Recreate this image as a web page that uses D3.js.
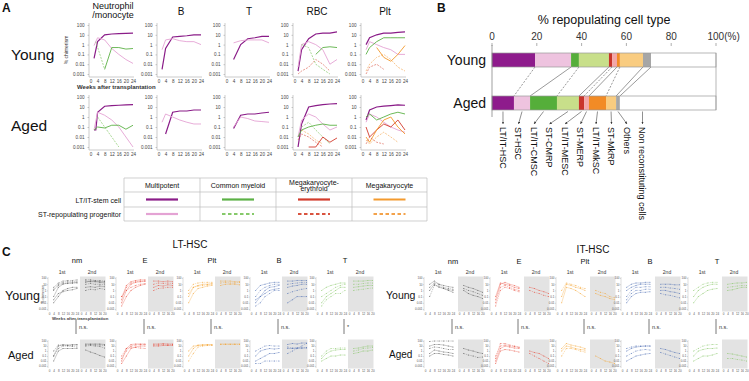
<!DOCTYPE html>
<html><head><meta charset="utf-8">
<script src="https://cdn.jsdelivr.net/npm/d3@7"></script>
<style>body{margin:0;background:#fff}svg{display:block}</style>
</head><body><svg id="c" width="749" height="381"></svg>
<script>
// ================= DATA =================
// ---- Panel A: % chimerism over weeks, per lineage class ----
const aColumns = ["Neutrophil|/monocyte", "B", "T", "RBC", "Plt"];
const aRows = ["Young", "Aged"];
const aYTicks = [100, 10, 1, 0.1, 0.01, 0.001];
const aXTicks = [0, 4, 8, 12, 16, 20, 24];

const aYoungNM = [
  ["LT-MP", [[2,0.04],[4,2],[8,10],[12,12],[16,13],[20,14],[24,15]]],
  ["ST-MP", [[2,0.8],[4,5],[8,3],[12,0.4],[16,0.1],[20,0.03],[24,0.012]]],
  ["ST-CM", [[3,2],[8,0.003]]],
  ["LT-CM", [[8,0.003],[12,0.5],[16,0.5],[20,0.35],[24,0.4]]]
];
const aYoungB = [
  ["LT-MP", [[2,0.003],[4,0.4],[8,6],[12,7],[16,8],[20,10],[24,10]]],
  ["ST-MP", [[2,0.3],[4,3],[8,4],[12,2.5],[16,2],[20,2],[24,1]]]
];
const aYoungT = [
  ["LT-MP", [[4,0.03],[8,1],[12,4],[16,5],[20,7],[24,7]]],
  ["ST-MP", [[4,1.5],[8,2.5],[12,3],[16,3],[20,3],[24,1.5]]]
];
const aYoungRBC = [
  ["LT-MP", [[2,0.002],[4,0.3],[8,4],[12,12],[16,15],[20,15],[24,20]]],
  ["ST-MP", [[2,0.005],[4,1],[8,2],[12,1],[16,0.3],[20,0.01],[24,0.03]]],
  ["LT-CM", [[12,0.1],[16,0.5],[20,0.6],[24,0.5]]],
  ["ST-CM", [[4,1],[8,0.5],[12,0.01],[16,0.003],[20,0.001]]],
  ["ST-ME", [[2,0.001],[4,0.002],[8,0.005],[12,0.03],[16,0.01],[20,0.002]]]
];
const aYoungPlt = [
  ["LT-MP", [[2,1],[4,5],[8,10],[12,15],[16,15],[20,18],[24,20]]],
  ["ST-MP", [[2,0.3],[4,2],[8,1],[12,0.5],[16,0.3],[20,0.1],[24,0.1]]],
  ["LT-CM", [[2,0.1],[4,0.5],[8,2],[12,5],[16,5],[20,5],[24,5]]],
  ["LT-Mk", [[8,0.5],[12,0.05],[16,0.02],[20,0.1],[24,0.8]]],
  ["ST-Mk", [[2,0.002],[4,0.01],[8,0.05],[12,0.1],[16,0.03],[20,0.005],[24,0.002]]],
  ["ST-ME", [[2,0.001],[4,0.005],[8,0.01],[12,0.003]]]
];
const aAgedNM = [
  ["LT-MP", [[2,0.05],[3,0.05],[4,3],[8,12],[12,14],[16,15],[20,16],[24,17]]],
  ["ST-MP", [[2,0.05],[4,3],[8,1.5],[12,0.5],[16,0.1],[20,0.01],[24,0.001]]],
  ["LT-CM", [[2,0.05],[4,0.1],[8,0.08],[12,0.15],[16,0.15],[20,0.06],[24,0.15]]],
  ["ST-CM", [[4,1],[8,0.1],[12,0.01],[16,0.001]]]
];
const aAgedB = [
  ["LT-MP", [[4,0.02],[8,3],[12,4],[16,4],[20,5],[24,5]]],
  ["ST-MP", [[2,0.3],[4,2],[8,1],[12,0.5],[16,0.3],[20,0.2],[24,0.2]]]
];
const aAgedT = [
  ["LT-MP", [[4,0.07],[8,1.5],[12,2],[16,2],[20,2.5],[24,3]]],
  ["ST-MP", [[4,0.1],[8,1],[12,0.7],[16,0.4],[20,0.35],[24,0.3]]]
];
const aAgedRBC = [
  ["LT-MP", [[2,0.001],[4,0.2],[8,10],[12,14],[16,17],[20,20],[24,22]]],
  ["ST-MP", [[2,0.01],[4,0.5],[8,2],[12,1],[16,0.2],[20,0.05],[24,0.1]]],
  ["LT-CM", [[2,0.01],[4,0.05],[8,0.1],[12,0.15],[16,0.2],[20,0.15],[24,0.15]]],
  ["ST-CM", [[4,0.1],[8,0.3],[12,0.05],[16,0.01],[20,0.002]]],
  ["LT-ME", [[8,0.0007],[12,0.001],[16,0.01],[20,0.003],[24,0.008]]],
  ["ST-ME", [[2,0.005],[4,0.02],[8,0.01],[12,0.003],[16,0.001]]],
  ["ST-Mk", [[4,0.05],[8,0.02],[12,0.005],[16,0.002]]]
];
const aAgedPlt = [
  ["LT-MP", [[2,0.5],[4,5],[8,10],[12,12],[16,14],[20,16],[24,15]]],
  ["ST-MP", [[2,0.3],[4,2],[8,1],[12,0.3],[16,0.1],[20,0.05],[24,0.03]]],
  ["LT-CM", [[2,1],[4,2],[8,0.5],[12,1],[16,2],[20,3],[24,2]]],
  ["LT-ME", [[2,0.1],[4,0.01],[8,0.05],[12,0.2],[16,0.1],[20,0.5],[24,0.05]]],
  ["LT-Mk", [[2,0.01],[4,0.003],[8,0.05],[12,0.5],[16,1],[20,0.1],[24,0.02]]],
  ["ST-Mk", [[2,0.005],[4,0.002],[8,0.01],[12,0.03],[16,0.01],[20,0.003]]],
  ["ST-ME", [[2,0.002],[4,0.01],[8,0.003],[12,0.002]]]
];

// ---- Legend table ----
const legendCols = ["Multipotent", "Common myeloid", "Megakaryocyte-|erythroid", "Megakaryocyte"];
const legendRows = ["LT/IT-stem cell", "ST-repopulating progenitor"];
const legendKeys = [["LT-MP","LT-CM","LT-ME","LT-Mk"],["ST-MP","ST-CM","ST-ME","ST-Mk"]];

// ---- Panel B: % repopulating cell type ----
const bCategories = ["LT/IT-HSC","ST-HSC","LT/IT-CMSC","ST-CMRP","LT/IT-MESC","ST-MERP","LT/IT-MkSC","ST-MkRP","Others","Non reconstituting cells"];
const bGroups = ["Young", "Aged"];
const bYoung = [19.2, 16.1, 3.5, 13.4, 1.4, 2.2, 1.3, 10.3, 3.6, 29.0];
const bAged  = [9.8, 7.2, 12.0, 9.8, 2.3, 2.2, 7.6, 4.5, 1.7, 42.9];
const bTicks = [0, 20, 40, 60, 80, 100];

// ---- Panel C: individual clones, log10(% chimerism) ----
const cGroups = ["LT-HSC", "IT-HSC"];
const cTypes = ["nm", "E", "Plt", "B", "T"];
const cWeeks1st = [4, 8, 12, 16, 20, 24];
const cWeeks2nd = [4, 8, 12, 16, 20];
const cXTicks1st = [0, 4, 8, 12, 16, 20, 24];
const cXTicks2nd = [0, 4, 8, 12, 16, 20];
const cSignif = [["n.s.","n.s.","n.s.","n.s.","*"], ["n.s.","n.s.","n.s.","n.s.","n.s."]];

const ltYoung1st = [
  [[-1,0.5,1,1.2,1.2,1.3],[0.2,1,1.3,1.4,1.4,1.5],[-2,-1,0,0.3,0.5,0.5],[0,0.8,1.1,1.1,1.2,1.2],[-1.5,-0.5,-0.2,0,0.1,0.3],[0.5,1.2,1.5,1.6,1.6,1.7]],
  [[-2,0,1,1.3,1.4,1.5],[-1,0.5,1.2,1.4,1.5,1.5],[-2.5,-1,0,0.5,0.8,1],[-1,0,0.5,0.8,1,1.1],[-1.5,0.8,1.4,1.6,1.7,1.7]],
  [[-1,0.5,0.8,1,1,1.1],[0,1,1.2,1.3,1.3,1.3],[-2,-0.5,0.3,0.5,0.7,0.8],[-0.5,0.5,0.7,0.8,0.9,1]],
  [[-2,-1,0,0.5,0.6,0.8],[-1,0,0.5,0.8,1,1],[0,0.8,1,1.2,1.3,1.3],[-2.5,-2,-1,-0.5,0,0],[-1.5,-1,-0.5,0,0.2,0.3]],
  [[-2,-1,-0.5,0,0.5,0.5],[-1,-0.5,0,0.5,0.8,1],[0,0.5,0.8,1,1.2,1.2],[-2.5,-1.5,-1,-0.5,-0.5,0]]
];
const ltYoung2nd = [
  [[1.5,1.4,1.4,1.3,1.2],[1,1.1,1,1,0.9],[0.5,0.6,0.5,0.7,0.6],[0,0.2,0.1,0.3,0.2],[1.3,1.5,1.5,1.4,1.4],[1.7,1.7,1.6,1.6,1.5]],
  [[1.5,1.5,1.4,1.5,1.4],[1,1.2,1.1,1.2,1.1],[0.5,0.8,0.7,0.9,0.8],[0,0.3,0.4,0.5,0.5]],
  [[1.5,1.5,1.5,1.4,1.4],[1.2,1.3,1.2,1.2,1.3],[0.8,1,1,1,0.9]],
  [[1.5,1.5,1.6,1.6,1.6],[1,1.1,1.2,1.3,1.3],[0.5,0.7,0.8,1,1],[-0.5,-0.2,0,0.2,0.3],[-2,-1.5,-1,-1,-1]],
  [[1.5,1.5,1.5,1.6,1.6],[1,1,1.1,1.2,1.2],[0.5,0.6,0.7,0.8,0.8],[0,0.1,0.2,0.3,0.4]]
];
const ltAged1st = [
  [[-1,1,1.3,1.2,1.3,1.3],[0,1.2,1.1,1,0.9,0.8],[-2,0,0.5,0.5,0.5,0.5],[-1,0.5,1,1.1,1.1,1.2]],
  [[-2,0.5,1.3,1.4,1.4,1.4],[-1.5,0,1,1.2,1.3,1.3],[-2.5,-1,0.5,0.8,1,1],[-1,0.5,0.8,0.7,0.6,0.5]],
  [[-1,0.5,1.2,1.3,1.3,1.3],[-2,-0.5,0.8,1,1.1,1.1],[0,1,1.1,1.1,1.2,1.2]],
  [[-1,0,0.3,0.5,0.4,0.5],[0,0.5,1,1.1,1,1],[-2,-1.5,-1,-0.5,-0.5,-0.3],[-2.5,-2.5,-2,-2,-2,-2]],
  [[-1.5,-0.5,0,0.2,0.3,0.3],[-1,0,0.5,0.5,0.6,0.6],[-2,-1.5,-1,-1,-0.8,-0.8]]
];
const ltAged2nd = [
  [[1.4,1.4,1.4,1.4,1.3],[1.2,1.3,1.2,1.2,1.1],[0.2,-0.2,-0.5,-0.9,-1.2],[1,1.1,1,0.9,0.6]],
  [[1.4,1.4,1.5,1.4,1.4],[1.2,1.2,1.3,1.2,1.3],[1,1,1.1,1.1,1.1]],
  [[1.4,1.4,1.4,1.4,1.4],[1.3,1.3,1.3,1.3,1.3]],
  [[1.3,1.5,1.4,1.6,1.6],[0.8,0.6,0.7,0.6,0.7],[0.5,0.5,0.5,0.6,0.6],[-0.5,0,0.5,1,1.5]],
  [[0.5,0.6,0.8,1,1],[0,0.2,0.5,0.6,0.7],[-0.5,-0.3,0,0,0.2]]
];
const itYoung1st = [
  [[1,1.5,1,0.8,0.6,0.5],[0.5,1.2,1,0.5,0.3,0.2],[0,1,0.5,0.3,0,-0.3],[-1,0.8,0.7,0.3,0.1,0]],
  [[-1,1.2,1,0.8,0.5,0.3],[-2,0.5,0.8,0.5,0.2,0],[-1.5,1,1.3,1,0.8,0.5],[-2.5,0,0.5,0.3,0,-0.2]],
  [[-1,1,0.8,0.5,0.3,0],[0,1.2,1,0.8,0.5,0.3],[-2,0.5,0.3,0,-0.5,-1]],
  [[0,0.5,0.8,1,1,1],[-1,0,0.5,0.5,0.6,0.6],[0.5,1,1.2,1.2,1.3,1.3],[-1.5,-0.5,0,0,0.2,0.2],[-2,-1,-0.5,-0.3,-0.3,-0.2]],
  [[-1,0,0.5,0.8,1,1],[0,0.5,1,1.2,1.3,1.3],[-2,-1,-0.5,0,0.2,0.3]]
];
const itYoung2nd = [
  [[0.8,0.5,0.3,0,-0.3],[0.3,0,-0.2,-0.5,-0.8],[0,-0.5,-0.8,-1,-1.3]],
  [[0.5,0.3,0,-0.2,-0.5],[0,-0.3,-0.5,-0.8,-1]],
  [[-0.5,-0.8,-1,-1.3,-1.5],[0,-0.3,-0.5,-1,-1.2]],
  [[1,1,1,0.9,0.9],[0.5,0.5,0.4,0.3,0.2],[0,0,-0.2,-0.3,-0.5],[-0.5,-0.7,-0.8,-1,-1.2]],
  [[1,1.1,1.2,1.2,1.3],[0.5,0.6,0.7,0.8,0.8],[0,0.1,0.3,0.5,0.5]]
];
const itAged1st = [
  [[1,1.3,1.3,1.2,1,0.8],[0.5,0.8,0.7,0.5,0.3,0.3],[-0.5,0.2,0,-0.2,-0.3,-0.5],[1.9,2,2,2,2,2],[-1,-0.5,-0.5,-0.7,-0.8,-1]],
  [[-2,0.5,1,0.8,0.6,0.5],[-1,1,1.2,1,0.9,0.7],[-2.5,0,0.3,0.2,0,-0.2],[-1.5,1.5,1.5,1.2,1,0.8]],
  [[0,1,0.8,0.5,0.3,0.2],[-1,0.5,0.5,0.3,0,-0.2],[0.5,1.5,1.2,1,0.8,0.5]],
  [[0,0.5,0.8,0.9,1,1],[-1,-0.5,0,0.2,0.3,0.2],[-2,-1.5,-1,-0.8,-0.6,-0.5],[0.5,0.8,1,1,1,1]],
  [[-1,0,0.3,0.5,0.5,0.6],[0,0.5,1,1.2,1.3,1.3],[-2,-1.5,-1,-1,-0.8,-0.5]]
];
const itAged2nd = [
  [[0.5,0.2,0,-0.3,-0.5],[-0.5,-0.8,-1,-1.3,-1.2]],
  [[0,-0.3,-0.5,-1,-1.5],[-0.5,-1,-1.5,-2,-2.5]],
  [[-1,-1.5,-2,-2.2,-2.5]],
  [[0.5,0.3,0,-0.3,-0.5],[-0.3,-0.6,-0.9,-1.2,-1.5]],
  [[-0.5,-0.6,-0.8,-1,-1.2],[-1.5,-1.5,-1.7,-1.8,-2]]
];

// ================= DRAWING =================
const F = "Arial, 'Liberation Sans', Helvetica, sans-serif";
const svg = d3.select("#c");
function T(x, y, s, size, anchor, attrs) {
  const t = svg.append("text").attr("x", x).attr("y", y).attr("font-size", size)
    .attr("font-family", F).attr("text-anchor", anchor || "start").attr("fill", "#111").text(s);
  if (attrs) for (const k in attrs) t.attr(k, attrs[k]);
  return t;
}
const fmtTick = d => d >= 1 ? String(d) : String(+d.toPrecision(1));

const lineStyle = {
  "LT-MP": {c: "#8a1c88", w: 1.2, d: null},
  "ST-MP": {c: "#e4a3d4", w: 0.9, d: null},
  "LT-CM": {c: "#5cb146", w: 0.9, d: null},
  "ST-CM": {c: "#86c96a", w: 0.7, d: "2,1.2"},
  "LT-ME": {c: "#d23b2c", w: 0.9, d: null},
  "ST-ME": {c: "#d9533f", w: 0.6, d: "2,1.2"},
  "LT-Mk": {c: "#f39a2e", w: 0.9, d: null},
  "ST-Mk": {c: "#f3a24a", w: 0.6, d: "2,1.2"}
};

// ---------- Panel A ----------
T(2, 12, "A", 12, "start", {"font-weight": "bold"});
const aX0 = [89, 157, 225, 293, 361];
const aYR = [[25, 74], [97, 147]];
const aData = [[aYoungNM, aYoungB, aYoungT, aYoungRBC, aYoungPlt], [aAgedNM, aAgedB, aAgedT, aAgedRBC, aAgedPlt]];
aColumns.forEach((c, i) => {
  const parts = c.split("|");
  const cx = aX0[i] + 24;
  if (parts.length === 2) { T(cx, 8.5, parts[0], 9, "middle"); T(cx, 17.5, parts[1], 9, "middle"); }
  else T(cx, 15, parts[0], 10, "middle");
});
aRows.forEach((r, i) => T(11, i === 0 ? 60 : 131, r, 15.5, "start"));
aData.forEach((row, r) => row.forEach((series, c) => {
  const x0 = aX0[c], [yt, yb] = aYR[r];
  const x = d3.scaleLinear().domain([0, 24]).range([x0 + 1.5, x0 + 44]);
  const y = d3.scaleLog().domain([0.001, 100]).range([yb, yt]).clamp(true);
  const g = svg.append("g");
  const ya = g.append("g").attr("transform", `translate(${x0},0)`)
    .call(d3.axisLeft(y).tickValues(aYTicks).tickFormat(fmtTick).tickSize(1.5).tickSizeOuter(0));
  const xa = g.append("g").attr("transform", `translate(0,${yb + 3})`)
    .call(d3.axisBottom(x).tickValues(aXTicks).tickSize(0).tickPadding(2.5));
  [ya, xa].forEach(a => {
    a.selectAll("text").attr("font-size", 4.6).attr("font-family", F).attr("fill", "#444");
    a.selectAll("line").attr("stroke", "#999").attr("stroke-width", 0.5);
    a.select(".domain").attr("stroke", "#aaa").attr("stroke-width", 0.6);
  });
  ya.select(".domain").attr("d", `M0,${yt - 2}V${yb + 3}`);
  xa.select(".domain").attr("d", `M${x0},0H${x0 + 45}`);
  const line = d3.line().x(d => x(d[0])).y(d => y(d[1]));
  series.forEach(([key, pts]) => {
    const s = lineStyle[key];
    g.append("path").attr("d", line(pts)).attr("fill", "none").attr("stroke", s.c)
      .attr("stroke-width", s.w).attr("stroke-dasharray", s.d);
  });
}));
T(68, 50, "% chimerism", 5, "middle", {transform: "rotate(-90,68,50)", fill: "#333"});
T(77, 89, "Weeks after transplantation", 6, "start", {"font-weight": "bold", fill: "#333"});

// ---------- Legend table ----------
const tb = {x0: 124, x1: 427, cols: [124, 200, 276, 352, 427], rows: [178, 192, 207, 221]};
tb.rows.forEach(yv => svg.append("line").attr("x1", tb.x0).attr("x2", tb.x1).attr("y1", yv).attr("y2", yv).attr("stroke", "#bbb").attr("stroke-width", 0.7));
tb.cols.forEach(xv => svg.append("line").attr("x1", xv).attr("x2", xv).attr("y1", tb.rows[0]).attr("y2", tb.rows[3]).attr("stroke", "#bbb").attr("stroke-width", 0.7));
legendCols.forEach((c, i) => {
  const cx = (tb.cols[i] + tb.cols[i + 1]) / 2;
  const p = c.split("|");
  if (p.length === 2) { T(cx, 184.5, p[0], 7, "middle"); T(cx, 191, p[1], 7, "middle"); }
  else T(cx, 188, p[0], 7, "middle");
  legendKeys.forEach((rowKeys, r) => {
    const s = lineStyle[rowKeys[i]];
    const yv = r === 0 ? 199.5 : 214;
    svg.append("line").attr("x1", cx - 16).attr("x2", cx + 16).attr("y1", yv).attr("y2", yv)
      .attr("stroke", r === 0 ? s.c : (i === 0 ? "#e4a3d4" : s.c)).attr("stroke-width", 2.2)
      .attr("stroke-dasharray", r === 0 || i === 0 ? null : "3.5,2.5");
  });
});
legendRows.forEach((r, i) => T(121, i === 0 ? 202.5 : 217, r, 7, "end"));

// ---------- Panel B ----------
T(437, 12, "B", 12, "start", {"font-weight": "bold"});
T(604, 24, "% repopulating cell type", 12.5, "middle");
const bColors = ["#8e1b8c","#eec3df","#55ae3a","#c8df8a","#c9342a","#f3a7a8","#f28b25","#f9cc80","#a6a6a6","#ffffff"];
const xb = d3.scaleLinear().domain([0, 100]).range([492, 716]);
bTicks.forEach(t => {
  if (t === 100) T(xb(t) - 8.5, 40, "100(%)", 10, "start", {fill: "#333"});
  else T(xb(t), 40, String(t), 10, "middle", {fill: "#333"});
  svg.append("line").attr("x1", xb(t)).attr("x2", xb(t)).attr("y1", 43).attr("y2", 46).attr("stroke", "#777").attr("stroke-width", 0.6);
});
const bBarY = [[53, 67], [96, 110]];
const bStacks = [bYoung, bAged].map(v => { let s = 0; return v.map(d => { const a = s; s += d; return [a, s]; }); });
for (let i = 1; i < bCategories.length; i++) {
  const xy = xb(bStacks[0][i][0]), xa = xb(bStacks[1][i][0]);
  svg.append("line").attr("x1", xy).attr("y1", 67).attr("x2", xa).attr("y2", 96)
    .attr("stroke", "#555").attr("stroke-width", 0.6)
    .attr("stroke-dasharray", (i % 2 === 1 && i < 8) ? "2,1.5" : null);
}
bStacks.forEach((st, g) => {
  st.forEach((d, i) => {
    svg.append("rect").attr("x", xb(d[0])).attr("y", bBarY[g][0]).attr("width", xb(d[1]) - xb(d[0]))
      .attr("height", bBarY[g][1] - bBarY[g][0]).attr("fill", bColors[i]);
  });
  svg.append("rect").attr("x", xb(0)).attr("y", bBarY[g][0]).attr("width", xb(100) - xb(0))
    .attr("height", bBarY[g][1] - bBarY[g][0]).attr("fill", "none").attr("stroke", "#999").attr("stroke-width", 0.7);
  T(486, bBarY[g][1] - 2, bGroups[g], 14, "end");
});
svg.append("line").attr("x1", xb(0)).attr("x2", xb(0)).attr("y1", 45).attr("y2", 117).attr("stroke", "#777").attr("stroke-width", 0.7);
svg.append("line").attr("x1", xb(100)).attr("x2", xb(100)).attr("y1", 53).attr("y2", 110).attr("stroke", "#999").attr("stroke-width", 0.7);
svg.append("defs").append("marker").attr("id", "arr").attr("viewBox", "0 0 6 6").attr("refX", 6).attr("refY", 3)
  .attr("markerWidth", 4).attr("markerHeight", 4).attr("orient", "auto")
  .append("path").attr("d", "M0,0L6,3L0,6Z").attr("fill", "#333");
bCategories.forEach((c, i) => {
  const lx = 503 + i * 15.5;
  const mid = i === bCategories.length - 1 ? lx : xb((bStacks[1][i][0] + bStacks[1][i][1]) / 2);
  svg.append("line").attr("x1", mid).attr("y1", 111.5).attr("x2", lx).attr("y2", 124)
    .attr("stroke", "#444").attr("stroke-width", 0.6).attr("marker-end", "url(#arr)");
  T(lx, 127, c, 9, "start", {transform: `rotate(90,${lx},127)`, dy: "0.35em"});
});

// ---------- Panel C ----------
T(2, 256, "C", 12, "start", {"font-weight": "bold"});
const cColors = ["#555555", "#e84a3a", "#f4a12c", "#4b6db3", "#86c765"];
const cX0 = [[48, 116, 183, 250, 316], [424, 490, 556, 621, 688]];
const c2Off = [32, 34];
const cRowY = [[278, 309], [341, 366]];
const cData = [[[ltYoung1st, ltYoung2nd], [ltAged1st, ltAged2nd]], [[itYoung1st, itYoung2nd], [itAged1st, itAged2nd]]];
const cTitleX = [190, 593], cTitleY = [248, 253];
const cRowLab = [[[5, 300, 12.5], [8, 359, 11]], [[386, 299, 10.5], [389, 358, 10]]];
cGroups.forEach((gname, gi) => {
  T(cTitleX[gi], cTitleY[gi], gname, 10, "middle");
  T(cRowLab[gi][0][0], cRowLab[gi][0][1], "Young", cRowLab[gi][0][2], "start");
  T(cRowLab[gi][1][0], cRowLab[gi][1][1], "Aged", cRowLab[gi][1][2], "start");
  cTypes.forEach((tn, ti) => {
    const x0 = cX0[gi][ti];
    T(x0 + 29, 264 - (gi === 0 ? 1 : 0), tn, 7.5, "middle");
    T(x0 + 14, 274, "1st", 5, "middle", {fill: "#333"});
    T(x0 + c2Off[gi] + 12, 274, "2nd", 5, "middle", {fill: "#333"});
    svg.append("line").attr("x1", x0 + 28).attr("x2", x0 + 28).attr("y1", 319).attr("y2", 334).attr("stroke", "#555").attr("stroke-width", 0.8);
    T(x0 + 31, 329, cSignif[gi][ti], 5.5, "start", {fill: "#333"});
    [0, 1].forEach(ri => {
      const [yt, yb] = cRowY[ri];
      const y = d3.scaleLog().domain([0.001, 100]).range([yb, yt]).clamp(true);
      const x1 = d3.scaleLinear().domain([0, 24]).range([x0 + 1, x0 + 29]);
      const g = svg.append("g");
      const ya = g.append("g").attr("transform", `translate(${x0},0)`)
        .call(d3.axisLeft(y).tickValues(aYTicks).tickFormat(fmtTick).tickSize(1).tickSizeOuter(0));
      ya.select(".domain").attr("d", `M0,${yt - 1}V${yb + 2}`).attr("stroke", "#aaa").attr("stroke-width", 0.4);
      ya.selectAll("line").attr("stroke", "#aaa").attr("stroke-width", 0.4);
      ya.selectAll("text").attr("font-size", 3).attr("font-family", F).attr("fill", "#555").attr("x", -1.5);
      const gx0 = x0 + c2Off[gi];
      g.append("rect").attr("x", gx0).attr("y", yt - 1.5).attr("width", 25.5).attr("height", yb - yt + 4).attr("fill", "#e3e3e3");
      const x2 = d3.scaleLinear().domain([0, 20]).range([gx0 + 1, gx0 + 24.5]);
      [[x1, cXTicks1st], [x2, cXTicks2nd]].forEach(([xs, ticks]) => {
        const xa = g.append("g").attr("transform", `translate(0,${yb + 2.5})`)
          .call(d3.axisBottom(xs).tickValues(ticks).tickSize(0).tickPadding(1.5));
        xa.select(".domain").remove();
        xa.selectAll("text").attr("font-size", 3).attr("font-family", F).attr("fill", "#555");
      });
      const [d1, d2] = cData[gi][ri];
      [[d1[ti], cWeeks1st, x1], [d2[ti], cWeeks2nd, x2]].forEach(([lines, wk, xs]) => {
        lines.forEach((vals, li) => {
          const pts = vals.map((v, k) => [wk[k], Math.pow(10, v)]);
          const ln = d3.line().x(d => xs(d[0])).y(d => y(d[1]));
          g.append("path").attr("d", ln(pts)).attr("fill", "none").attr("stroke", cColors[ti])
            .attr("stroke-width", 0.45).attr("stroke-dasharray", li % 2 ? "1.5,0.8" : null).attr("opacity", 0.7);
          g.selectAll(null).data(pts).enter().append("circle").attr("cx", d => xs(d[0])).attr("cy", d => y(d[1]))
            .attr("r", 0.5).attr("fill", cColors[ti]).attr("opacity", 0.8);
        });
      });
    });
  });
});
T(44, 294, "% chimerism", 3.2, "middle", {transform: "rotate(-90,44,294)", fill: "#444"});
T(52, 320, "Weeks after transplantation", 4.3, "start", {"font-weight": "bold", fill: "#444"});
</script></body></html>
